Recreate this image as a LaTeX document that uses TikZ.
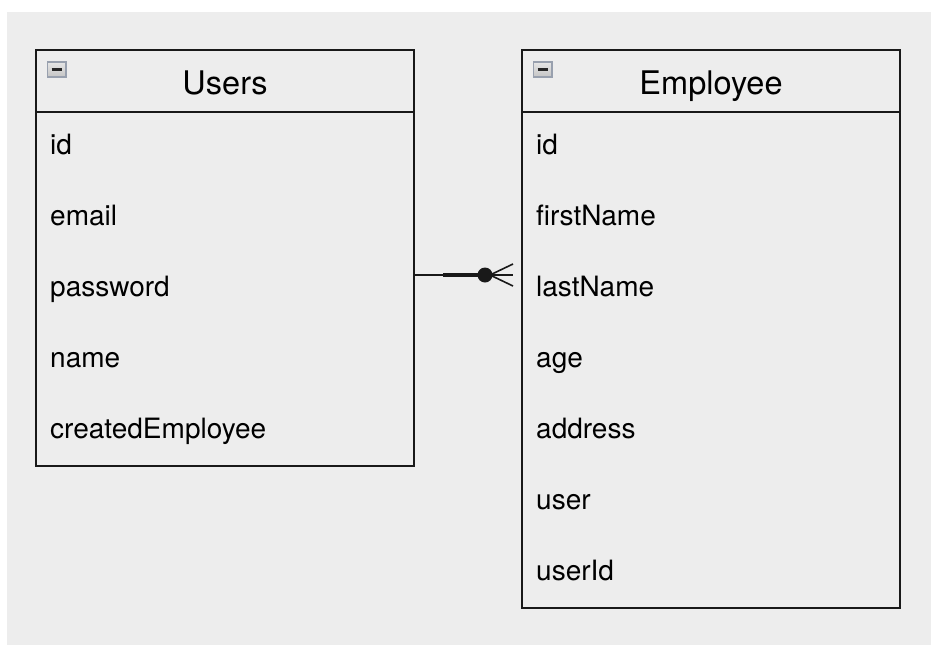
\documentclass[tikz,border=0pt]{standalone}
\usepackage{fontspec}
\setmainfont{TeX Gyre Heros}
\definecolor{bg}{HTML}{EDEDED}
\definecolor{iconedge}{HTML}{98A0AE}
\definecolor{icontop}{HTML}{E6E6E6}
\definecolor{iconbot}{HTML}{C4C4C4}
\tikzset{
  tablebox/.style={draw=black!90, line width=2pt, fill=bg},
  rowtext/.style={anchor=base west, inner sep=0pt, font=\fontsize{28}{32}\selectfont},
  titletext/.style={anchor=base, inner sep=0pt, font=\fontsize{32.5}{36}\selectfont},
  iconbox/.style={draw=iconedge, line width=1.5pt, top color=icontop, bottom color=iconbot},
  iconbar/.style={line width=2.2pt, black!85},
  rel/.style={line width=2pt, black!90},
  relthick/.style={line width=3.5pt, black!90},
  crow/.style={line width=1.6pt, black!90},
}
\begin{document}
\begin{tikzpicture}[x=1pt,y=-1pt]
\useasboundingbox (0,0) rectangle (931,645);
\fill[white] (0,0) rectangle (931,645);
\fill[bg] (7,12) rectangle (931,645);

% Users table
\draw[tablebox] (36,50) rectangle (414,466);
\draw[tablebox] (36,112) -- (414,112);
\node[titletext] (usersT) at (225,94) {Users};
\draw[iconbox] (47.5,62) rectangle (66,77);
\draw[iconbar] (51.5,69.5) -- (62,69.5);
\node[rowtext] (u1) at (50,154) {id};
\node[rowtext] (u2) at (50,225) {email};
\node[rowtext] (u3) at (50,296) {password};
\node[rowtext] (u4) at (50,367) {name};
\node[rowtext] (u5) at (50,438) {createdEmployee};

% Employee table
\draw[tablebox] (522,50) rectangle (900,608);
\draw[tablebox] (522,112) -- (900,112);
\node[titletext] (empT) at (711,94) {Employee};
\draw[iconbox] (533.5,62) rectangle (552,77);
\draw[iconbar] (537.5,69.5) -- (548,69.5);
\node[rowtext] (e1) at (536,154) {id};
\node[rowtext] (e2) at (536,225) {firstName};
\node[rowtext] (e3) at (536,296) {lastName};
\node[rowtext] (e4) at (536,367) {age};
\node[rowtext] (e5) at (536,438) {address};
\node[rowtext] (e6) at (536,509) {user};
\node[rowtext] (e7) at (536,580) {userId};

% relation
\coordinate (rs) at (414,275);
\coordinate (rm) at (443,275);
\coordinate (dot) at (485,275);
\coordinate (rj) at (490,275);
\coordinate (rt) at (513,264);
\coordinate (rmid) at (513,275);
\coordinate (rb) at (513,286);
\draw[rel] (rs) -- (rm);
\draw[relthick] (rm) -- (dot);
\fill[black!90] (dot) circle (7.5);
\draw[crow] (rj) -- (rt);
\draw[crow] (rj) -- (rmid);
\draw[crow] (rj) -- (rb);
\end{tikzpicture}
\end{document}
